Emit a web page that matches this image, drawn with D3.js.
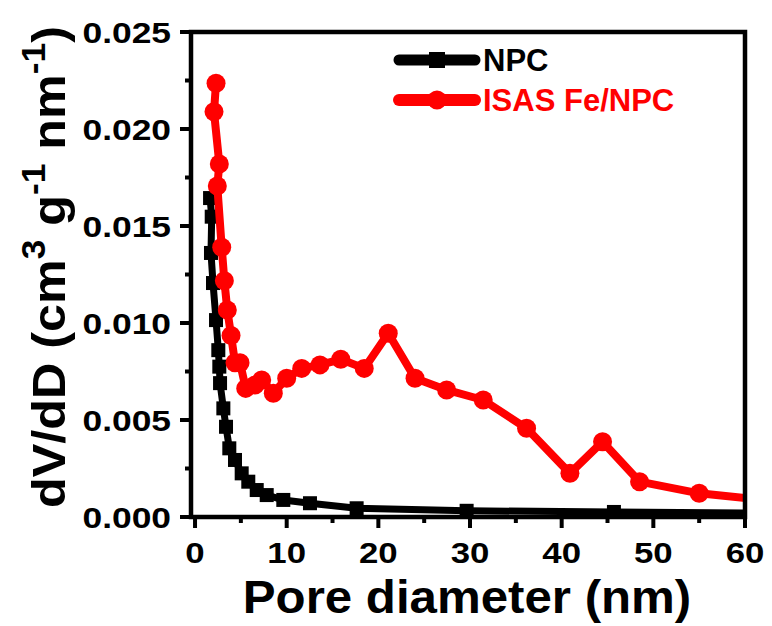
<!DOCTYPE html>
<html><head><meta charset="utf-8">
<script src="https://cdn.jsdelivr.net/npm/d3@7"></script>
<style>body{margin:0;background:#fff}svg{display:block}</style>
</head><body><svg id="c" width="772" height="626"></svg>
<script>
// ---- data ----
const npcX = [1.64, 1.82, 1.74, 1.96, 2.29, 2.54, 2.65, 2.73, 3.09, 3.38, 3.74, 4.36, 5.09, 5.81, 6.73, 7.82, 9.63, 12.54, 17.63, 29.63, 45.7, 62];
const npcY = [0.01644, 0.01548, 0.01361, 0.01206, 0.01015, 0.0086, 0.00775, 0.0069, 0.0056, 0.00465, 0.00354, 0.00294, 0.00225, 0.00182, 0.00139, 0.00113, 0.00088, 0.00071, 0.00045, 0.00032, 0.00026, 0.0002];
const fenX = [2.29, 2.07, 2.65, 2.43, 2.91, 3.2, 3.52, 3.93, 4.36, 4.91, 5.53, 6.54, 7.27, 8.54, 10.0, 11.64, 13.63, 15.9, 18.46, 21.08, 24.0, 27.45, 31.44, 36.17, 40.9, 44.46, 48.5, 55.0, 62];
const fenY = [0.02236, 0.02089, 0.0182, 0.01706, 0.0139, 0.01218, 0.01067, 0.00936, 0.00795, 0.00795, 0.00663, 0.0068, 0.00706, 0.00638, 0.00715, 0.00766, 0.00784, 0.00813, 0.00766, 0.00947, 0.00715, 0.00655, 0.00603, 0.00457, 0.00225, 0.00388, 0.00182, 0.00122, 0.00088];
const seriesNames = ["NPC", "ISAS Fe/NPC"];
const xTickValues = [0, 10, 20, 30, 40, 50, 60];
const xMinorValues = [5, 15, 25, 35, 45, 55];
const yTickValues = [0, 0.005, 0.010, 0.015, 0.020, 0.025];
const yMinorValues = [0.0025, 0.0075, 0.0125, 0.0175, 0.0225];
const xTitle = "Pore diameter (nm)";

// ---- drawing ----
const FONT = "'Liberation Sans', Arial, Helvetica, sans-serif";
const svg = d3.select("#c");
const x = d3.scaleLinear().domain([-0.44, 60]).range([191, 745]);
const y = d3.scaleLinear().domain([0, 0.025]).range([517, 32]);
const [x0, x1] = x.range();
const [y0, y1] = y.range();

svg.append("rect").attr("width", 772).attr("height", 626).attr("fill", "#fff");

svg.append("clipPath").attr("id", "clip").append("rect")
  .attr("x", x0).attr("y", y1).attr("width", x1 - x0).attr("height", y0 - y1 + 3);

const plot = svg.append("g").attr("clip-path", "url(#clip)");
const line = d3.line().x(d => x(d[0])).y(d => y(d[1]));

const npc = npcX.map((v, i) => [v, npcY[i]]);
const fen = fenX.map((v, i) => [v, fenY[i]]);

const SQ = 14, R = 9.5;
// NPC (black)
plot.append("path").datum(npc).attr("d", line).attr("fill", "none")
  .attr("stroke", "#000").attr("stroke-width", 7).attr("stroke-linejoin", "round").attr("stroke-linecap", "round");
plot.selectAll("rect.npc").data(npc).enter().append("rect").attr("class", "npc")
  .attr("x", d => x(d[0]) - SQ / 2).attr("y", d => y(d[1]) - SQ / 2)
  .attr("width", SQ).attr("height", SQ).attr("fill", "#000");
// ISAS Fe/NPC (red)
plot.append("path").datum(fen).attr("d", line).attr("fill", "none")
  .attr("stroke", "#ff0000").attr("stroke-width", 8).attr("stroke-linejoin", "round").attr("stroke-linecap", "round");
plot.selectAll("circle.fen").data(fen).enter().append("circle").attr("class", "fen")
  .attr("cx", d => x(d[0])).attr("cy", d => y(d[1])).attr("r", R).attr("fill", "#ff0000");

// frame
svg.append("rect").attr("x", x0).attr("y", y1).attr("width", x1 - x0).attr("height", y0 - y1)
  .attr("fill", "none").attr("stroke", "#000").attr("stroke-width", 4.5);

// x ticks
const gx = svg.append("g");
gx.selectAll("line.maj").data(xTickValues).enter().append("line")
  .attr("x1", d => x(d)).attr("x2", d => x(d)).attr("y1", y0).attr("y2", y0 + 11)
  .attr("stroke", "#000").attr("stroke-width", 4);
gx.selectAll("line.min").data(xMinorValues).enter().append("line")
  .attr("x1", d => x(d)).attr("x2", d => x(d)).attr("y1", y0).attr("y2", y0 + 6)
  .attr("stroke", "#000").attr("stroke-width", 4);
gx.selectAll("text").data(xTickValues).enter().append("text")
  .attr("transform", d => `translate(${x(d)},563) scale(1.16,1)`)
  .attr("text-anchor", "middle").attr("font-family", FONT).attr("font-weight", "bold")
  .attr("font-size", 30).attr("fill", "#000").text(d => d3.format("d")(d));

// y ticks
const gy = svg.append("g");
gy.selectAll("line.maj").data(yTickValues).enter().append("line")
  .attr("x1", x0 - 11).attr("x2", x0).attr("y1", d => y(d)).attr("y2", d => y(d))
  .attr("stroke", "#000").attr("stroke-width", 4);
gy.selectAll("line.min").data(yMinorValues).enter().append("line")
  .attr("x1", x0 - 6).attr("x2", x0).attr("y1", d => y(d)).attr("y2", d => y(d))
  .attr("stroke", "#000").attr("stroke-width", 4);
gy.selectAll("text").data(yTickValues).enter().append("text")
  .attr("transform", d => `translate(171,${y(d) + 11}) scale(1.18,1)`)
  .attr("text-anchor", "end").attr("font-family", FONT).attr("font-weight", "bold")
  .attr("font-size", 30).attr("fill", "#000").text(d => d3.format(".3f")(d));

// axis titles
svg.append("text").attr("transform", "translate(467,613) scale(1.07,1)").attr("text-anchor", "middle")
  .attr("font-family", FONT).attr("font-weight", "bold").attr("font-size", 46).attr("fill", "#000")
  .text(xTitle);

const yt = svg.append("text").attr("transform", "translate(65,267) rotate(-90) scale(1.07,1)")
  .attr("text-anchor", "middle").attr("font-family", FONT).attr("font-weight", "bold")
  .attr("font-size", 47).attr("fill", "#000");
yt.append("tspan").text("dV/dD (cm");
yt.append("tspan").attr("font-size", 33).attr("dy", -20).text("3");
yt.append("tspan").attr("dy", 20).text(" g");
yt.append("tspan").attr("font-size", 33).attr("dy", -20).text("-1");
yt.append("tspan").attr("dy", 20).text(" nm");
yt.append("tspan").attr("font-size", 33).attr("dy", -20).text("-1");
yt.append("tspan").attr("dy", 20).text(")");

// legend
const legend = [
  {name: seriesNames[0], color: "#000", y: 60, shape: "square", w: 7},
  {name: seriesNames[1], color: "#ff0000", y: 100, shape: "circle", w: 8}
];
legend.forEach(l => {
  svg.append("line").attr("x1", 399).attr("x2", 475).attr("y1", l.y).attr("y2", l.y)
    .attr("stroke", l.color).attr("stroke-width", l.w + 4).attr("stroke-linecap", "round");
  if (l.shape === "square") {
    svg.append("rect").attr("x", 437 - SQ / 2 - 1).attr("y", l.y - SQ / 2 - 1).attr("width", SQ + 2).attr("height", SQ + 2).attr("fill", l.color);
  } else {
    svg.append("circle").attr("cx", 437).attr("cy", l.y).attr("r", R).attr("fill", l.color);
  }
  svg.append("text").attr("x", 483).attr("y", l.y + 11).attr("font-family", FONT)
    .attr("font-weight", "bold").attr("font-size", 31).attr("fill", l.color).text(l.name);
});
</script></body></html>
